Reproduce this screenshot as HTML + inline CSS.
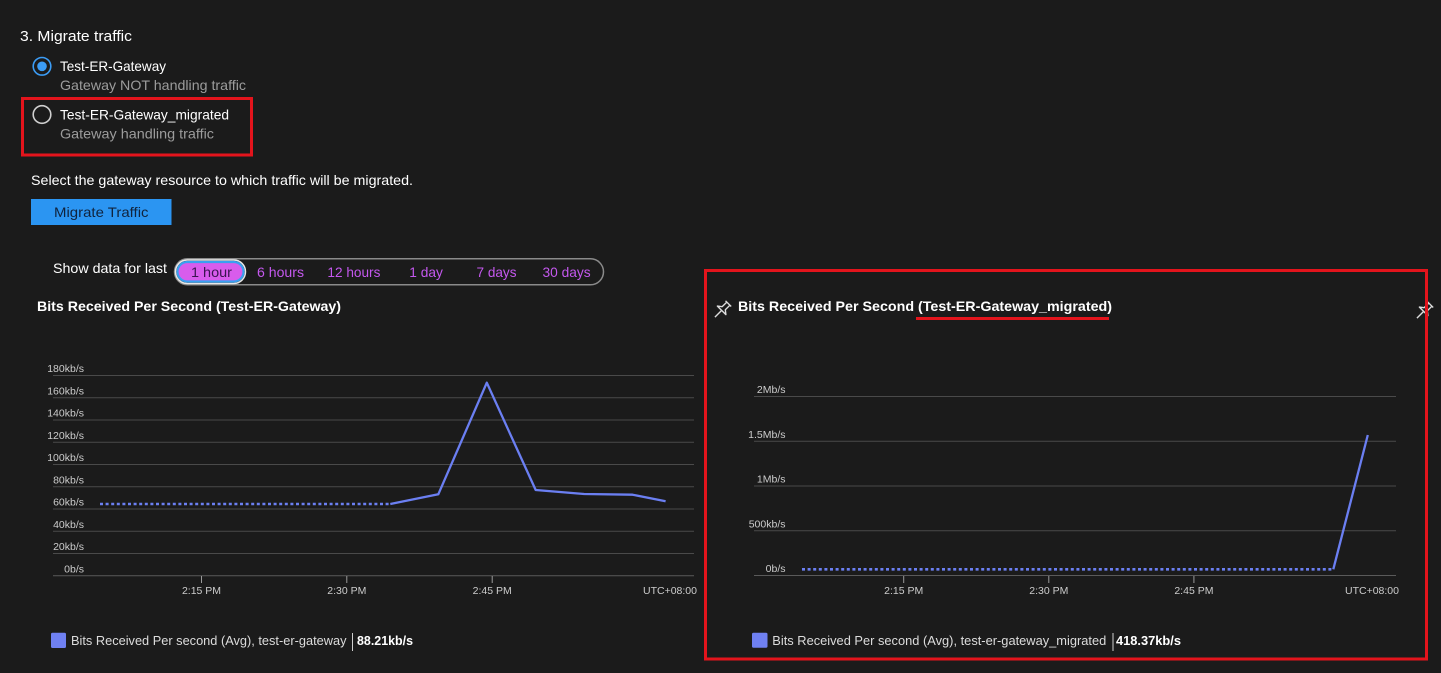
<!DOCTYPE html>
<html>
<head>
<meta charset="utf-8">
<style>
  html,body{margin:0;padding:0;background:#1b1b1b;}
  svg{display:block;}
  text{font-family:"Liberation Sans",Arial,sans-serif;}
</style>
</head>
<body>
<svg width="1441" height="673" viewBox="0 0 1441 673" xmlns="http://www.w3.org/2000/svg">
  <rect x="0" y="0" width="1441" height="673" fill="#1b1b1b"/>

  <!-- Header section -->
  <text x="20" y="41" font-size="15" fill="#ffffff" textLength="112" lengthAdjust="spacingAndGlyphs">3. Migrate traffic</text>

  <!-- Radio 1 -->
  <circle cx="42" cy="66.3" r="8.8" fill="none" stroke="#3b9cf5" stroke-width="1.6"/>
  <circle cx="42" cy="66.3" r="4.8" fill="#3b9cf5"/>
  <text x="60" y="71" font-size="14" fill="#ffffff" textLength="106" lengthAdjust="spacingAndGlyphs">Test-ER-Gateway</text>
  <text x="60" y="90" font-size="14" fill="#9c9c9c" textLength="186" lengthAdjust="spacingAndGlyphs">Gateway NOT handling traffic</text>

  <!-- Radio 2 -->
  <circle cx="42" cy="114.5" r="8.8" fill="none" stroke="#cfcfcf" stroke-width="1.6"/>
  <text x="60" y="119.5" font-size="14" fill="#ffffff" textLength="169" lengthAdjust="spacingAndGlyphs">Test-ER-Gateway_migrated</text>
  <text x="60" y="138.5" font-size="14" fill="#9c9c9c" textLength="154" lengthAdjust="spacingAndGlyphs">Gateway handling traffic</text>

  <!-- red box 1 -->
  <rect x="22.5" y="98.5" width="229" height="56.5" fill="none" stroke="#e3141c" stroke-width="3"/>

  <text x="31" y="185" font-size="14" fill="#ffffff" textLength="382" lengthAdjust="spacingAndGlyphs">Select the gateway resource to which traffic will be migrated.</text>

  <!-- Button -->
  <rect x="31" y="199" width="140.5" height="26" fill="#2b95f2"/>
  <text x="54" y="217" font-size="14" fill="#10233d" textLength="94.5" lengthAdjust="spacingAndGlyphs">Migrate Traffic</text>

  <!-- Show data for last -->
  <text x="53" y="273" font-size="14" fill="#ffffff" textLength="114" lengthAdjust="spacingAndGlyphs">Show data for last</text>
  <rect x="174.5" y="258.8" width="429" height="26" rx="13" fill="none" stroke="#8a8a8a" stroke-width="1.5"/>
  <rect x="175.5" y="260" width="70" height="23.5" rx="11.75" fill="none" stroke="#e8e8e8" stroke-width="1.5"/>
  <rect x="177.5" y="262" width="66" height="19.5" rx="9.75" fill="#d85cec" stroke="#3aa0f0" stroke-width="2.2"/>
  <text x="191" y="277" font-size="14" fill="#3a1450" textLength="41" lengthAdjust="spacingAndGlyphs">1 hour</text>
  <g font-size="14" fill="#c458ee">
    <text x="257" y="277" textLength="47" lengthAdjust="spacingAndGlyphs">6 hours</text>
    <text x="327.4" y="277" textLength="53" lengthAdjust="spacingAndGlyphs">12 hours</text>
    <text x="409.3" y="277" textLength="33.6" lengthAdjust="spacingAndGlyphs">1 day</text>
    <text x="476.5" y="277" textLength="40" lengthAdjust="spacingAndGlyphs">7 days</text>
    <text x="542.5" y="277" textLength="48.2" lengthAdjust="spacingAndGlyphs">30 days</text>
  </g>

  <!-- ===== Left chart ===== -->
  <text x="37" y="311" font-size="14" font-weight="bold" fill="#ffffff" textLength="304" lengthAdjust="spacingAndGlyphs">Bits Received Per Second (Test-ER-Gateway)</text>

  <g stroke="#4a4a4a" stroke-width="1">
    <line x1="53" y1="375.5" x2="694" y2="375.5"/>
    <line x1="53" y1="397.75" x2="694" y2="397.75"/>
    <line x1="53" y1="420" x2="694" y2="420"/>
    <line x1="53" y1="442.25" x2="694" y2="442.25"/>
    <line x1="53" y1="464.5" x2="694" y2="464.5"/>
    <line x1="53" y1="486.75" x2="694" y2="486.75"/>
    <line x1="53" y1="509" x2="694" y2="509"/>
    <line x1="53" y1="531.25" x2="694" y2="531.25"/>
    <line x1="53" y1="553.5" x2="694" y2="553.5"/>
    <line x1="53" y1="575.75" x2="694" y2="575.75" stroke="#5a5a5a"/>
  </g>
  <g font-size="10.5" fill="#cccccc" text-anchor="end">
    <text x="84" y="372.2">180kb/s</text>
    <text x="84" y="394.4">160kb/s</text>
    <text x="84" y="416.7">140kb/s</text>
    <text x="84" y="438.9">120kb/s</text>
    <text x="84" y="461.2">100kb/s</text>
    <text x="84" y="483.4">80kb/s</text>
    <text x="84" y="505.7">60kb/s</text>
    <text x="84" y="527.9">40kb/s</text>
    <text x="84" y="550.2">20kb/s</text>
    <text x="84" y="572.4">0b/s</text>
  </g>
  <g stroke="#9a9a9a" stroke-width="1">
    <line x1="201.5" y1="576" x2="201.5" y2="583"/>
    <line x1="346.8" y1="576" x2="346.8" y2="583"/>
    <line x1="492.2" y1="576" x2="492.2" y2="583"/>
  </g>
  <g font-size="10.5" fill="#cccccc" text-anchor="middle">
    <text x="201.5" y="594">2:15 PM</text>
    <text x="346.8" y="594">2:30 PM</text>
    <text x="492.2" y="594">2:45 PM</text>
    <text x="697" y="594" text-anchor="end">UTC+08:00</text>
  </g>
  <line x1="100" y1="504" x2="390.3" y2="504" stroke="#6b7ff2" stroke-width="2.6" stroke-dasharray="3 2.6"/>
  <polyline points="390.3,504 438.3,494.3 486.8,382.7 535.7,490 584.1,494 632.6,494.7 665.6,501.3" fill="none" stroke="#6b7ff2" stroke-width="2.3" stroke-linejoin="round"/>

  <!-- Left legend -->
  <rect x="51" y="632.7" width="15" height="15.3" rx="1.5" fill="#6f80f2"/>
  <text x="71" y="645" font-size="12.5" fill="#dcdcdc" textLength="275.5" lengthAdjust="spacingAndGlyphs">Bits Received Per second (Avg), test-er-gateway</text>
  <line x1="352.5" y1="633" x2="352.5" y2="651" stroke="#cfcfcf" stroke-width="1"/>
  <text x="357" y="645" font-size="12.5" font-weight="bold" fill="#ffffff" textLength="56" lengthAdjust="spacingAndGlyphs">88.21kb/s</text>

  <!-- ===== Right chart ===== -->
  <g transform="translate(722,310) rotate(45)" stroke="#dddddd" fill="none" stroke-width="1.4" stroke-linejoin="round">
    <path d="M-4,-9 h8 M-2.2,-9 v6.5 l-3.8,3 h12 l-3.8,-3 v-6.5 M0,0.5 v9.5"/>
  </g>
  <text x="738" y="311" font-size="14" font-weight="bold" fill="#ffffff" textLength="374" lengthAdjust="spacingAndGlyphs">Bits Received Per Second (Test-ER-Gateway_migrated)</text>
  <rect x="916" y="317" width="193" height="3" fill="#e3141c"/>

  <g stroke="#4a4a4a" stroke-width="1">
    <line x1="754" y1="396.5" x2="1396" y2="396.5"/>
    <line x1="754" y1="441.25" x2="1396" y2="441.25"/>
    <line x1="754" y1="486" x2="1396" y2="486"/>
    <line x1="754" y1="530.75" x2="1396" y2="530.75"/>
    <line x1="754" y1="575.5" x2="1396" y2="575.5" stroke="#5a5a5a"/>
  </g>
  <g font-size="10.5" fill="#cccccc" text-anchor="end">
    <text x="785.5" y="393.2">2Mb/s</text>
    <text x="785.5" y="438">1.5Mb/s</text>
    <text x="785.5" y="482.7">1Mb/s</text>
    <text x="785.5" y="527.5">500kb/s</text>
    <text x="785.5" y="572.2">0b/s</text>
  </g>
  <g stroke="#9a9a9a" stroke-width="1">
    <line x1="903.7" y1="576" x2="903.7" y2="583"/>
    <line x1="1048.8" y1="576" x2="1048.8" y2="583"/>
    <line x1="1193.9" y1="576" x2="1193.9" y2="583"/>
  </g>
  <g font-size="10.5" fill="#cccccc" text-anchor="middle">
    <text x="903.7" y="594">2:15 PM</text>
    <text x="1048.8" y="594">2:30 PM</text>
    <text x="1193.9" y="594">2:45 PM</text>
    <text x="1399" y="594" text-anchor="end">UTC+08:00</text>
  </g>
  <line x1="802" y1="569.3" x2="1333.3" y2="569.3" stroke="#6b7ff2" stroke-width="2.6" stroke-dasharray="3 2.6"/>
  <polyline points="1333.3,569.3 1367.8,435" fill="none" stroke="#6b7ff2" stroke-width="2.3"/>

  <!-- Right legend -->
  <rect x="752" y="632.7" width="15.5" height="15" rx="1.5" fill="#6f80f2"/>
  <text x="772.3" y="645" font-size="12.5" fill="#dcdcdc" textLength="334" lengthAdjust="spacingAndGlyphs">Bits Received Per second (Avg), test-er-gateway_migrated</text>
  <line x1="1113" y1="633" x2="1113" y2="651" stroke="#cfcfcf" stroke-width="1"/>
  <text x="1116" y="645" font-size="12.5" font-weight="bold" fill="#ffffff" textLength="65" lengthAdjust="spacingAndGlyphs">418.37kb/s</text>

  <!-- right-edge pin -->
  <g transform="translate(1424,311) rotate(45)" stroke="#dddddd" fill="none" stroke-width="1.4" stroke-linejoin="round">
    <path d="M-4,-9 h8 M-2.2,-9 v6.5 l-3.8,3 h12 l-3.8,-3 v-6.5 M0,0.5 v9.5"/>
  </g>

  <!-- red box 2 -->
  <rect x="705.5" y="270.5" width="721" height="388.5" fill="none" stroke="#e3141c" stroke-width="3"/>
</svg>
</body>
</html>
